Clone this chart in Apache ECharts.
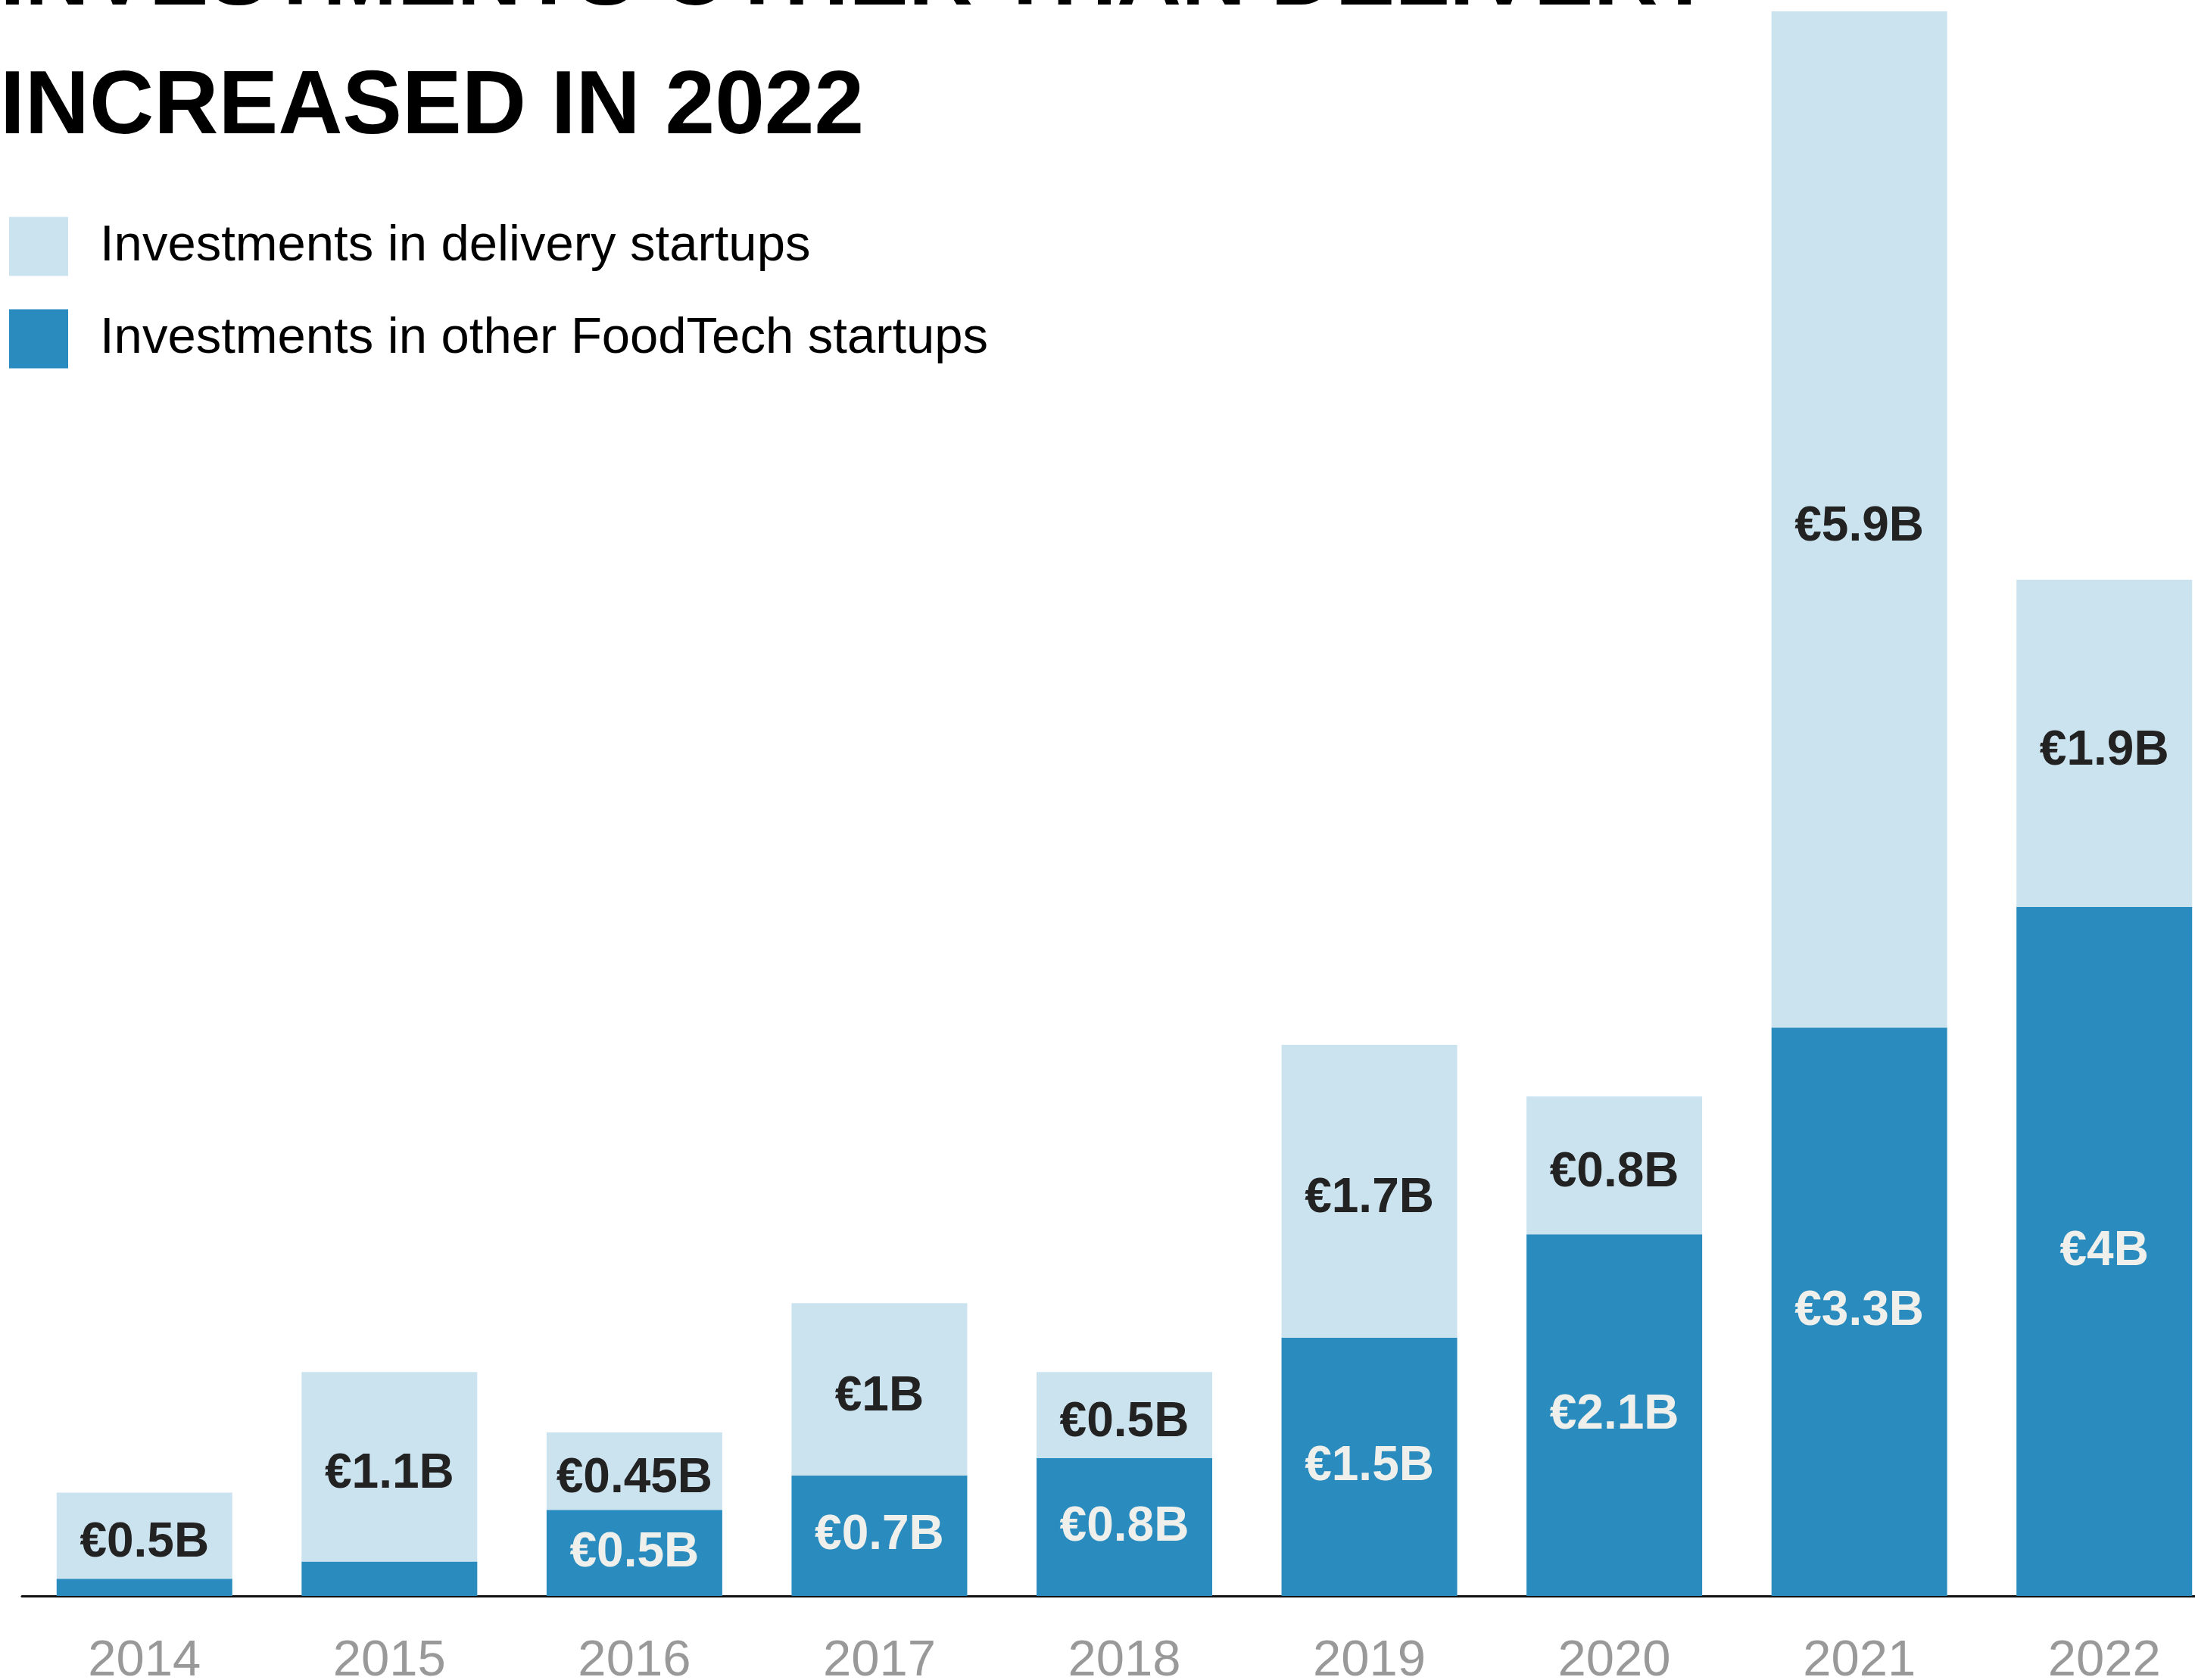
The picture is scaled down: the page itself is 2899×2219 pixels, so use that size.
<!DOCTYPE html>
<html>
<head>
<meta charset="utf-8">
<title>FoodTech investments</title>
<script src="https://cdn.jsdelivr.net/npm/echarts@6/dist/echarts.min.js"></script>
<style>
  html, body { margin: 0; padding: 0; background: #ffffff; }
  #chart { width: 2899px; height: 2219px; }
</style>
</head>
<body>
<div id="chart"></div>
<script>
const years = ['2014', '2015', '2016', '2017', '2018', '2019', '2020', '2021', '2022'];
// € billions
const otherFoodTech = [0.1, 0.2, 0.5, 0.7, 0.8, 1.5, 2.1, 3.3, 4];
const delivery = [0.5, 1.1, 0.45, 1, 0.5, 1.7, 0.8, 5.9, 1.9];

const LIGHT = '#cbe3ef';
const DARK = '#2a8cbe';
const FONT = "'Liberation Sans', Arial, Helvetica, sans-serif";

const chart = echarts.init(document.getElementById('chart'));

// small segments (2014, 2015) carry no label
const euro = (p) => (p.value < 0.3 ? '' : '€' + p.value + 'B');

chart.setOption({
  animation: false,
  backgroundColor: '#ffffff',
  title: {
    text: 'INVESTMENTS OTHER THAN DELIVERY\nINCREASED IN 2022',
    left: 0,
    top: -112,
    padding: 0,
    textStyle: {
      fontFamily: FONT,
      fontSize: 118,
      fontWeight: 'bold',
      lineHeight: 170,
      color: '#000000'
    }
  },
  legend: {
    orient: 'vertical',
    left: 12,
    top: 283,
    padding: 0,
    itemWidth: 78,
    itemHeight: 78,
    itemGap: 37,
    icon: 'rect',
    selectedMode: false,
    data: ['Investments in delivery startups', 'Investments in other FoodTech startups'],
    textStyle: {
      fontFamily: FONT,
      fontSize: 67,
      color: '#000000',
      lineHeight: 67,
      padding: [18, 0, 0, 37]
    }
  },
  grid: {
    left: 29,
    width: 2912,
    top: 15,
    bottom: 111,
    outerBoundsMode: 'none',
    containLabel: false
  },
  xAxis: {
    type: 'category',
    data: years,
    axisLine: { show: true, lineStyle: { color: '#111111', width: 3 } },
    axisTick: { show: false },
    axisLabel: {
      margin: 53,
      fontFamily: FONT,
      fontSize: 67,
      color: '#999999'
    }
  },
  yAxis: {
    type: 'value',
    min: 0,
    max: 9.2,
    show: false,
    splitLine: { show: false }
  },
  series: [
    {
      name: 'Investments in other FoodTech startups',
      type: 'bar',
      stack: 'total',
      barWidth: 232,
      data: otherFoodTech,
      itemStyle: { color: DARK },
      label: {
        show: true,
        position: 'inside',
        formatter: euro,
        fontFamily: FONT,
        fontSize: 64,
        fontWeight: 'bold',
        color: '#efefeb'
      }
    },
    {
      name: 'Investments in delivery startups',
      type: 'bar',
      stack: 'total',
      barWidth: 232,
      data: delivery,
      itemStyle: { color: LIGHT },
      label: {
        show: true,
        position: 'inside',
        offset: [0, 10],
        formatter: euro,
        fontFamily: FONT,
        fontSize: 64,
        fontWeight: 'bold',
        color: '#222222'
      }
    }
  ]
});
</script>
</body>
</html>
